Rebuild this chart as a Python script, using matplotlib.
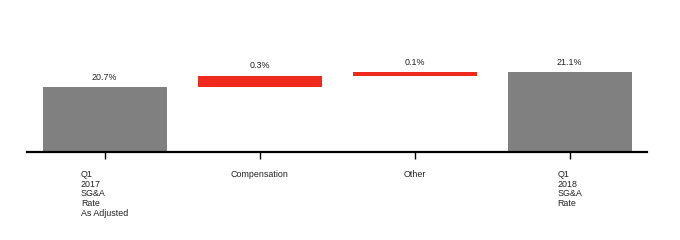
import numpy as np
import matplotlib.pyplot as plt

plt.rcParams['font.family'] = ['Liberation Sans', 'DejaVu Sans']

# datos del puente SG&A
categorias = ['Q1\n2017\nSG&A\nRate\nAs Adjusted', 'Compensation', 'Other', 'Q1\n2018\nSG&A\nRate']
inicio = 20.7
cambios = [0.3, 0.1]
final = 21.1
etiquetas = ['20.7%', '0.3%', '0.1%', '21.1%']

gris = '#808080'
rojo = '#f0291e'
base_eje = 18.97

fig = plt.figure(figsize=(6.8, 2.4), dpi=100)
ax = fig.add_axes([27/680, 88/240, 620/680, 152/240])

x = np.arange(len(categorias))
ancho = 0.8

# barras totales (desde el eje) y barras flotantes de variacion
acumulado = inicio + np.cumsum([0] + cambios)
bottoms = [base_eje, acumulado[0], acumulado[1], base_eje]
alturas = [inicio - base_eje, cambios[0], cambios[1], final - base_eje]
colores = [gris, rojo, rojo, gris]

ax.bar(x, alturas, bottom=bottoms, width=ancho, color=colores, edgecolor='none')

for xi, b, h, txt in zip(x, bottoms, alturas, etiquetas):
    ax.annotate(txt, (xi, b + h), xytext=(0, 4), textcoords='offset points',
                ha='center', va='bottom', fontsize=6.4, color='#222222')

ax.set_xlim(-0.5, 3.5)
ax.set_ylim(base_eje, 23.02)
ax.set_xticks(x)
ax.set_xticklabels(categorias, fontsize=6.4, linespacing=1.1, multialignment='left',
                   color='#222222')
ax.tick_params(axis='x', length=5, width=1, pad=8, direction='out')
ax.set_yticks([])
for lado in ['top', 'right', 'left']:
    ax.spines[lado].set_visible(False)
ax.spines['bottom'].set_linewidth(1.6)

fig.savefig('out.png', dpi=100)
